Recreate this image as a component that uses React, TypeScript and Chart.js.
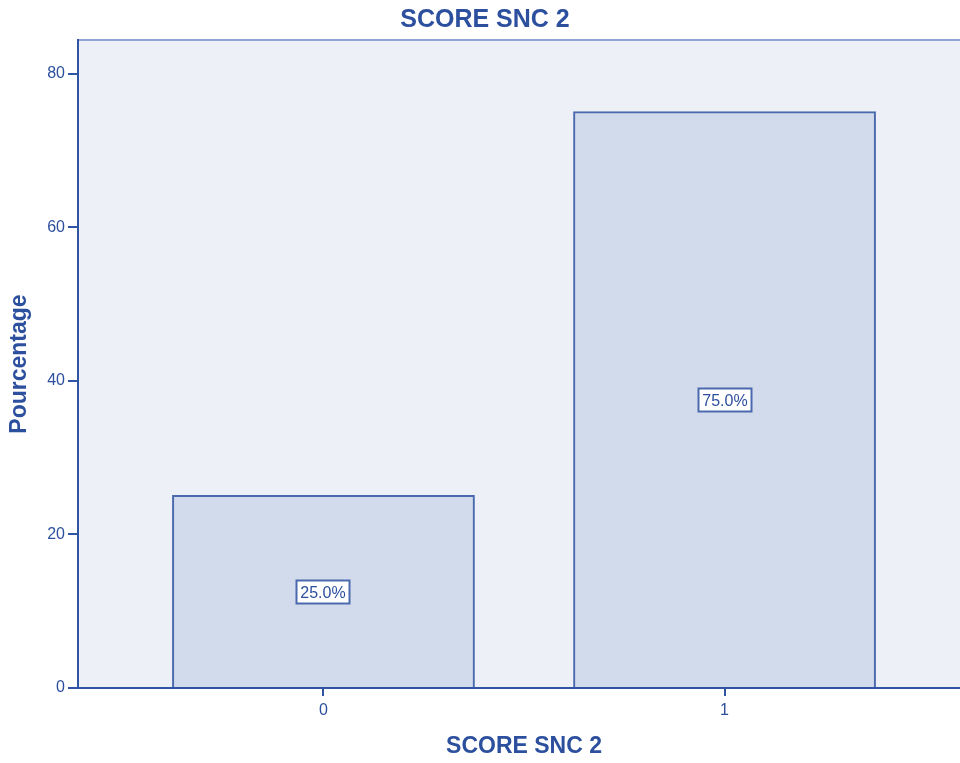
import React, { useEffect, useRef } from 'react';
import { Chart, registerables } from 'chart.js';

Chart.register(...registerables);

const categories = ['0', '1'];
const categoryPositions = [0, 1];
const percentages = [25.0, 75.0];
const yTickValues = [0, 20, 40, 60, 80];
const chartTitle = 'SCORE SNC 2';
const xAxisTitle = 'SCORE SNC 2';
const yAxisTitle = 'Pourcentage';

const FONT = 'Arial, "Liberation Sans", Helvetica, sans-serif';
const BLUE = '#2C4F9E';
const AXIS = '#2F54A6';
const BAR_FILL = '#D2DBEC';
const BAR_BORDER = '#4B6AAE';
const PLOT_BG = '#EDF0F7';

const decorPlugin = {
  id: 'decor',
  beforeDraw(chart: any) {
    const { ctx, chartArea } = chart;
    ctx.save();
    ctx.fillStyle = PLOT_BG;
    ctx.fillRect(chartArea.left, chartArea.top, chartArea.right - chartArea.left, chartArea.bottom - chartArea.top);
    ctx.strokeStyle = '#8FA4D3';
    ctx.lineWidth = 2;
    ctx.beginPath();
    ctx.moveTo(chartArea.left, chartArea.top);
    ctx.lineTo(chartArea.right, chartArea.top);
    ctx.stroke();
    ctx.restore();
  },
  afterDatasetsDraw(chart: any) {
    const { ctx } = chart;
    const meta = chart.getDatasetMeta(0);
    const yScale = chart.scales.y;
    ctx.save();
    ctx.font = `16px ${FONT}`;
    ctx.textAlign = 'center';
    ctx.textBaseline = 'middle';
    meta.data.forEach((bar: any, i: number) => {
      const v = percentages[i];
      const label = `${v.toFixed(1)}%`;
      const cx = Math.round(bar.x);
      const cy = Math.round(yScale.getPixelForValue(v / 2));
      const w = Math.round(ctx.measureText(label).width + 8);
      const h = 23;
      ctx.fillStyle = '#FFFFFF';
      ctx.fillRect(cx - w / 2, cy - h / 2, w, h);
      ctx.strokeStyle = BAR_BORDER;
      ctx.lineWidth = 2;
      ctx.strokeRect(cx - w / 2, cy - h / 2, w, h);
      ctx.fillStyle = BLUE;
      ctx.fillText(label, cx, cy + 2);
    });
    ctx.restore();
  },
  afterDraw(chart: any) {
    const { ctx, chartArea } = chart;
    ctx.save();
    ctx.fillStyle = BLUE;
    ctx.textAlign = 'center';
    ctx.textBaseline = 'middle';
    ctx.font = `bold 25px ${FONT}`;
    ctx.fillText(chartTitle, chart.width / 2, 20);
    ctx.font = `bold 23px ${FONT}`;
    ctx.fillText(xAxisTitle, (chartArea.left + chartArea.right) / 2, 747);
    ctx.translate(20, (chartArea.top + chartArea.bottom) / 2);
    ctx.rotate(-Math.PI / 2);
    ctx.fillText(yAxisTitle, 0, 0);
    ctx.restore();
  },
};

export default function App() {
  const ref = useRef<HTMLCanvasElement>(null);
  useEffect(() => {
    if (!ref.current) return;
    const chart = new Chart(ref.current, {
      type: 'bar',
      data: {
        datasets: [
          {
            data: categoryPositions.map((x, i) => ({ x, y: percentages[i] })),
            backgroundColor: BAR_FILL,
            borderColor: BAR_BORDER,
            borderWidth: 2,
            inflateAmount: 1,
            categoryPercentage: 1,
            barPercentage: 0.75,
          },
        ],
      },
      options: {
        animation: false,
        responsive: false,
        maintainAspectRatio: false,
        layout: { padding: { top: 40, left: 0, right: 0, bottom: 0 } },
        plugins: { legend: { display: false }, tooltip: { enabled: false }, title: { display: false } },
        scales: {
          x: {
            type: 'linear',
            min: -0.612,
            max: 1.612,
            offset: false,
            afterBuildTicks: (s: any) => {
              s.ticks = categoryPositions.map((v) => ({ value: v }));
            },
            afterFit: (s: any) => {
              s.height = 75;
            },
            grid: { offset: false, drawOnChartArea: false, drawTicks: true, tickLength: 8, color: AXIS, lineWidth: 2 },
            border: { display: true, color: AXIS, width: 2 },
            ticks: {
              color: BLUE,
              font: { size: 16, family: FONT },
              padding: 5,
              maxRotation: 0,
              callback: (v: any) => {
                const idx = categoryPositions.indexOf(Number(v));
                return idx >= 0 ? categories[idx] : '';
              },
            },
          },
          y: {
            type: 'linear',
            min: 0,
            max: 84.4,
            afterBuildTicks: (s: any) => {
              s.ticks = yTickValues.map((v) => ({ value: v }));
            },
            afterFit: (s: any) => {
              s.width = 78;
            },
            grid: { drawOnChartArea: false, drawTicks: true, tickLength: 10, color: AXIS, lineWidth: 2 },
            border: { display: true, color: AXIS, width: 2 },
            ticks: { color: BLUE, font: { size: 16, family: FONT }, padding: 3 },
          },
        },
      },
      plugins: [decorPlugin],
    } as any);
    return () => chart.destroy();
  }, []);
  return (
    <div style={{ position: 'absolute', left: 0, top: 0, width: 960, height: 763, overflow: 'hidden', background: '#fff' }}>
      <canvas ref={ref} width={970} height={763} style={{ width: 970, height: 763, display: 'block' }} />
    </div>
  );
}
